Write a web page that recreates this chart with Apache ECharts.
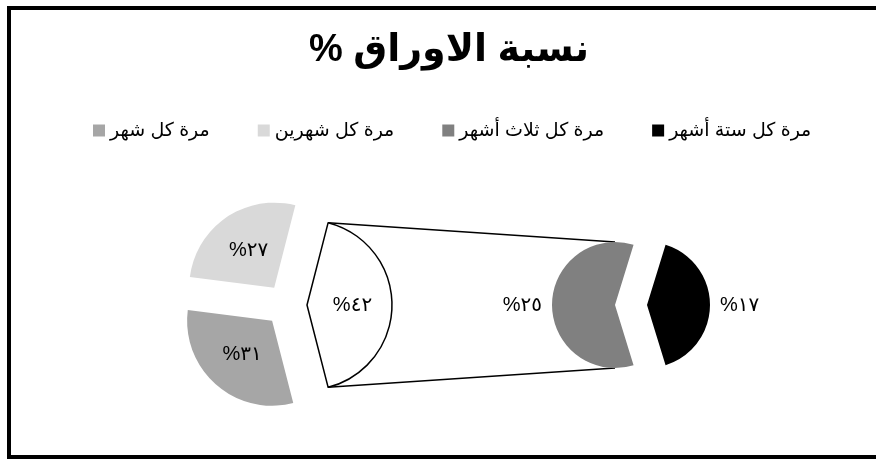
<!DOCTYPE html>
<html>
<head>
<meta charset="utf-8">
<script src="https://cdn.jsdelivr.net/npm/echarts@6/dist/echarts.min.js"></script>
<style>
  html, body { margin: 0; padding: 0; background: #fff; }
  #chart { width: 876px; height: 459px; }
</style>
</head>
<body>
<div id="chart"></div>
<script>
// Title and legend entries (left to right on screen)
const titleText = 'نسبة الاوراق %\u200F';
const legendNames = ['مرة كل شهر', 'مرة كل شهرين', 'مرة كل ثلاث أشهر', 'مرة كل ستة أشهر'];

// Main pie: the combined slice first, then the two shown on their own
const mainNames = ['أخرى', 'مرة كل شهر', 'مرة كل شهرين'];
const mainValues = [42, 31, 27];
const mainColors = ['#ffffff', '#a6a6a6', '#d9d9d9'];

// Secondary pie: breakdown of the combined slice
const subNames = ['مرة كل ستة أشهر', 'مرة كل ثلاث أشهر'];
const subValues = [17, 25];
const subColors = ['#000000', '#808080'];

const FONT = 'Arial, "DejaVu Sans", sans-serif';
const arabicDigits = '٠١٢٣٤٥٦٧٨٩';
const toArabic = v => String(v).replace(/[0-9]/g, d => arabicDigits[d]);
const pctLabel = p => toArabic(p.value) + '%\u200F';

// Layout of the two pies
const main = { cx: 286, cy: 305, r: 85, explode: 21 };
const sub = { cx: 631, cy: 305, r: 63, explode: 16 };

const sum = a => a.reduce((s, v) => s + v, 0);
const mainTotal = sum(mainValues);
const subTotal = sum(subValues);
// Combined slice points right, the secondary pie's first slice points right too
const mainStart = mainValues[0] / mainTotal * 180;
const subStart = subValues[0] / subTotal * 180;

function items(names, values, colors, outlineFirst) {
  return names.map((n, i) => {
    const st = {
      color: colors[i],
      borderColor: outlineFirst && i === 0 ? '#000' : colors[i],
      borderWidth: outlineFirst && i === 0 ? 1.5 : 0
    };
    return { name: n, value: values[i], selected: true, itemStyle: st, select: { itemStyle: st } };
  });
}

// Connector lines from the combined slice edges to the secondary pie
const half = mainStart * Math.PI / 180;
const ax = main.cx + main.explode + main.r * Math.cos(half);
const ayTop = main.cy - main.r * Math.sin(half);
const ayBot = main.cy + main.r * Math.sin(half);
const bx = sub.cx - sub.explode;
const byTop = sub.cy - sub.r;
const byBot = sub.cy + sub.r;

const chart = echarts.init(document.getElementById('chart'), null, { renderer: 'canvas' });
chart.setOption({
  animation: false,
  backgroundColor: '#ffffff',
  title: {
    text: titleText,
    left: 444, top: 27, textAlign: 'center',
    textStyle: { fontFamily: FONT, fontSize: 38, fontWeight: 'bold', color: '#000' }
  },
  legend: {
    data: legendNames,
    left: 88, top: 116,
    icon: 'rect', itemWidth: 12, itemHeight: 12, itemGap: 48,
    selectedMode: false,
    textStyle: { fontFamily: FONT, fontSize: 19, color: '#000' }
  },
  graphic: [
    { type: 'rect', shape: { x: 9, y: 8, width: 880, height: 449 },
      style: { fill: null, stroke: '#000', lineWidth: 4 }, silent: true, z: 10 },
    { type: 'line', shape: { x1: ax, y1: ayTop, x2: bx, y2: byTop },
      style: { stroke: '#000', lineWidth: 1.5 }, silent: true },
    { type: 'line', shape: { x1: ax, y1: ayBot, x2: bx, y2: byBot },
      style: { stroke: '#000', lineWidth: 1.5 }, silent: true }
  ],
  series: [
    {
      type: 'pie',
      center: [main.cx, main.cy], radius: main.r,
      startAngle: mainStart, clockwise: true,
      selectedMode: 'multiple', selectedOffset: main.explode,
      avoidLabelOverlap: false,
      label: { position: 'inside', formatter: pctLabel, fontFamily: FONT, fontSize: 20, color: '#000', offset: [-9, 0] },
      labelLine: { show: false },
      emphasis: { disabled: true },
      data: items(mainNames, mainValues, mainColors, true)
    },
    {
      type: 'pie',
      center: [sub.cx, sub.cy], radius: sub.r,
      startAngle: subStart, clockwise: true,
      selectedMode: 'multiple', selectedOffset: sub.explode,
      avoidLabelOverlap: false,
      label: { position: 'outside', formatter: pctLabel, fontFamily: FONT, fontSize: 20, color: '#000', distanceToLabelLine: 0 },
      labelLine: { show: false, length: 6, length2: 4 },
      emphasis: { disabled: true },
      data: items(subNames, subValues, subColors, false)
    }
  ]
});
</script>
</body>
</html>
